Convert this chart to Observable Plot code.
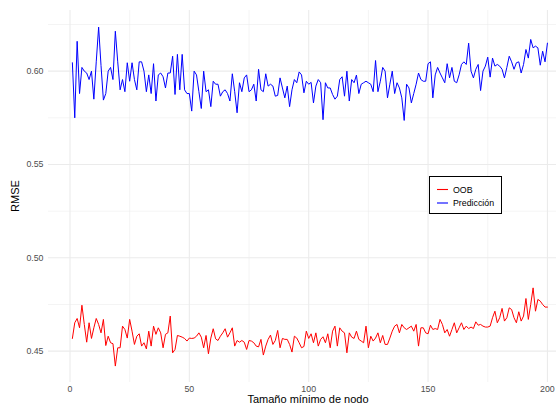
<!DOCTYPE html>
<html>
<head>
<meta charset="utf-8">
<script src="https://cdn.jsdelivr.net/npm/d3@7"></script>
<script src="https://cdn.jsdelivr.net/npm/@observablehq/plot@0.6"></script>
<style>
  body { margin: 0; background: white; }
  #wrap { position: relative; width: 556px; height: 405px; overflow: hidden; font-family: "Liberation Sans", Arial, sans-serif; }
  .abs { position: absolute; white-space: nowrap; }
  #xtitle { font-size: 11px; line-height: 11px; color: #000; left: 308px; top: 394px; transform: translateX(-50%); }
  #ytitle { font-size: 11px; line-height: 11px; color: #000; left: 15px; top: 196px; transform: translate(-50%, -50%) rotate(-90deg); }
  #legend { position: absolute; left: 428px; top: 175px; }
  svg g[aria-label="x-axis tick label"] text, svg g[aria-label="y-axis tick label"] text { fill: #4d4d4d; }
</style>
</head>
<body>
<div id="wrap"></div>
<script>
// Tamaño mínimo de nodo runs 1..200
const oob = [
0.4568,0.4652,0.4675,0.4625,0.4746,0.4643,0.4548,0.4652,0.4568,0.4625,
0.4675,0.4643,0.4598,0.4670,0.4530,0.4580,0.4545,0.4540,0.4420,0.4518,
0.4518,0.4634,0.4616,0.4570,0.4670,0.4607,0.4536,0.4580,0.4593,0.4527,
0.4545,0.4512,0.4607,0.4527,0.4634,0.4590,0.4625,0.4598,0.4518,0.4590,
0.4598,0.4688,0.4491,0.4509,0.4584,0.4580,0.4575,0.4568,0.4554,0.4570,
0.4568,0.4570,0.4580,0.4598,0.4575,0.4518,0.4584,0.4486,0.4570,0.4620,
0.4566,0.4557,0.4580,0.4598,0.4620,0.4575,0.4598,0.4625,0.4527,0.4557,
0.4548,0.4557,0.4548,0.4509,0.4557,0.4554,0.4545,0.4527,0.4523,0.4563,
0.4479,0.4527,0.4563,0.4586,0.4536,0.4557,0.4611,0.4518,0.4568,0.4563,
0.4563,0.4536,0.4495,0.4580,0.4570,0.4545,0.4518,0.4525,0.4607,0.4568,
0.4593,0.4545,0.4598,0.4527,0.4563,0.4577,0.4545,0.4593,0.4518,0.4607,
0.4634,0.4527,0.4625,0.4607,0.4598,0.4491,0.4598,0.4575,0.4568,0.4607,
0.4563,0.4554,0.4545,0.4634,0.4518,0.4580,0.4554,0.4570,0.4598,0.4545,
0.4584,0.4536,0.4536,0.4570,0.4607,0.4634,0.4643,0.4598,0.4643,0.4625,
0.4616,0.4625,0.4634,0.4607,0.4643,0.4527,0.4625,0.4625,0.4598,0.4593,
0.4639,0.4616,0.4621,0.4616,0.4670,0.4643,0.4598,0.4616,0.4580,0.4616,
0.4652,0.4598,0.4625,0.4652,0.4616,0.4634,0.4621,0.4629,0.4621,0.4657,
0.4639,0.4643,0.4634,0.4629,0.4629,0.4634,0.4679,0.4714,0.4652,0.4679,
0.4729,0.4661,0.4679,0.4732,0.4723,0.4679,0.4652,0.4711,0.4661,0.4688,
0.4782,0.4670,0.4750,0.4839,0.4714,0.4777,0.4768,0.4750,0.4736,0.4736
];
const prediccion = [
0.6045,0.5750,0.6160,0.5880,0.6020,0.6000,0.5990,0.5955,0.6000,0.5850,
0.6050,0.6236,0.6030,0.5845,0.5880,0.6000,0.6020,0.5955,0.6214,0.6050,
0.5900,0.5955,0.5890,0.6045,0.5946,0.6045,0.5955,0.5900,0.6050,0.6050,
0.6000,0.5890,0.5980,0.5880,0.6040,0.5840,0.5980,0.5990,0.5970,0.5910,
0.5990,0.5990,0.6080,0.5875,0.6090,0.5900,0.6090,0.5900,0.5880,0.5880,
0.5786,0.6000,0.5980,0.5890,0.5800,0.6000,0.5890,0.5900,0.5810,0.5946,
0.5930,0.5930,0.5866,0.5890,0.5900,0.5880,0.5840,0.5986,0.5890,0.5777,
0.5938,0.5890,0.5964,0.5980,0.5890,0.5900,0.5930,0.5840,0.6010,0.5900,
0.5890,0.5986,0.5920,0.5930,0.5920,0.5866,0.5870,0.5964,0.5910,0.5857,
0.5920,0.5810,0.5900,0.5955,0.5938,0.5996,0.5980,0.5884,0.5946,0.5930,
0.5940,0.5830,0.5920,0.5955,0.5938,0.5740,0.5938,0.5910,0.5910,0.5875,
0.5850,0.5866,0.5955,0.5970,0.5866,0.6000,0.5840,0.5955,0.5938,0.5979,
0.5880,0.5930,0.5938,0.5946,0.5938,0.5930,0.5890,0.6057,0.5890,0.5946,
0.6020,0.6000,0.5857,0.5930,0.6000,0.5880,0.5938,0.5910,0.5857,0.5736,
0.5930,0.5910,0.5830,0.5880,0.5930,0.5990,0.5955,0.5946,0.5946,0.6040,
0.6050,0.5857,0.5980,0.6020,0.5990,0.5964,0.5938,0.6040,0.5964,0.6020,
0.5946,0.5938,0.5980,0.6036,0.6050,0.6036,0.6150,0.6000,0.5964,0.6010,
0.6036,0.5896,0.6000,0.6027,0.6075,0.5968,0.6070,0.6027,0.6036,0.6027,
0.6010,0.5964,0.6020,0.6080,0.6050,0.6010,0.6045,0.6050,0.5990,0.6036,
0.6116,0.6070,0.6170,0.6125,0.6134,0.6125,0.6032,0.6107,0.6050,0.6150
];
const xTicks = [0, 50, 100, 150, 200];
const xMinor = [25, 75, 125, 175];
const yTicks = [0.45, 0.50, 0.55, 0.60];
const yMinor = [0.475, 0.525, 0.575, 0.625];
const seriesNames = ["OOB", "Predicción"];
const seriesColors = ["#ff0000", "#0000ff"];

const rows = [];
oob.forEach((v, i) => rows.push({node: i + 1, rmse: v, serie: seriesNames[0]}));
prediccion.forEach((v, i) => rows.push({node: i + 1, rmse: v, serie: seriesNames[1]}));

const grid = "#ebebeb";
const chart = Plot.plot({
  width: 556,
  height: 405,
  marginLeft: 48,
  marginRight: 0,
  marginTop: 10,
  marginBottom: 23,
  style: {background: "white", fontFamily: "'Liberation Sans', Arial, sans-serif", fontSize: "8.8px"},
  x: {domain: [-9, 203.8]},
  y: {domain: [0.4332, 0.6325]},
  color: {domain: seriesNames, range: seriesColors},
  marks: [
    Plot.ruleX(xMinor, {stroke: grid, strokeWidth: 0.55}),
    Plot.ruleY(yMinor, {stroke: grid, strokeWidth: 0.55}),
    Plot.ruleX(xTicks, {stroke: grid, strokeWidth: 1.1}),
    Plot.ruleY(yTicks, {stroke: grid, strokeWidth: 1.1}),
    Plot.axisX({ticks: xTicks, tickSize: 0, tickPadding: 3, label: null, fill: "#4d4d4d", fontSize: 8.8}),
    Plot.axisY({ticks: yTicks, tickSize: 0, tickPadding: 5, tickFormat: d3.format(".2f"), label: null, fill: "#4d4d4d", fontSize: 8.8}),
    Plot.line(rows, {x: "node", y: "rmse", z: "serie", stroke: "serie", strokeWidth: 1})
  ]
});

const wrap = document.getElementById("wrap");
wrap.appendChild(chart);

function addDiv(id, text) {
  const d = document.createElement("div");
  d.className = "abs";
  d.id = id;
  d.textContent = text;
  wrap.appendChild(d);
  return d;
}
addDiv("xtitle", "Tamaño mínimo de nodo");
addDiv("ytitle", "RMSE");

// legend as a small SVG overlay
const lg = d3.create("svg")
  .attr("id", "legend")
  .attr("width", 76).attr("height", 41)
  .attr("viewBox", "0 0 76 41");
lg.append("rect")
  .attr("x", 1.5).attr("y", 1.5).attr("width", 72).attr("height", 37)
  .attr("fill", "white").attr("stroke", "black").attr("stroke-width", 1);
seriesNames.forEach((name, i) => {
  const y = 14.5 + i * 13.5;
  lg.append("line")
    .attr("x1", 9).attr("x2", 20).attr("y1", y).attr("y2", y)
    .attr("stroke", seriesColors[i]).attr("stroke-width", 1.1);
  lg.append("text")
    .attr("x", 25).attr("y", y).attr("dy", "0.35em")
    .attr("font-size", 8.8).attr("font-family", "'Liberation Sans', Arial, sans-serif")
    .attr("fill", "black")
    .text(name);
});
wrap.appendChild(lg.node());
</script>
</body>
</html>
